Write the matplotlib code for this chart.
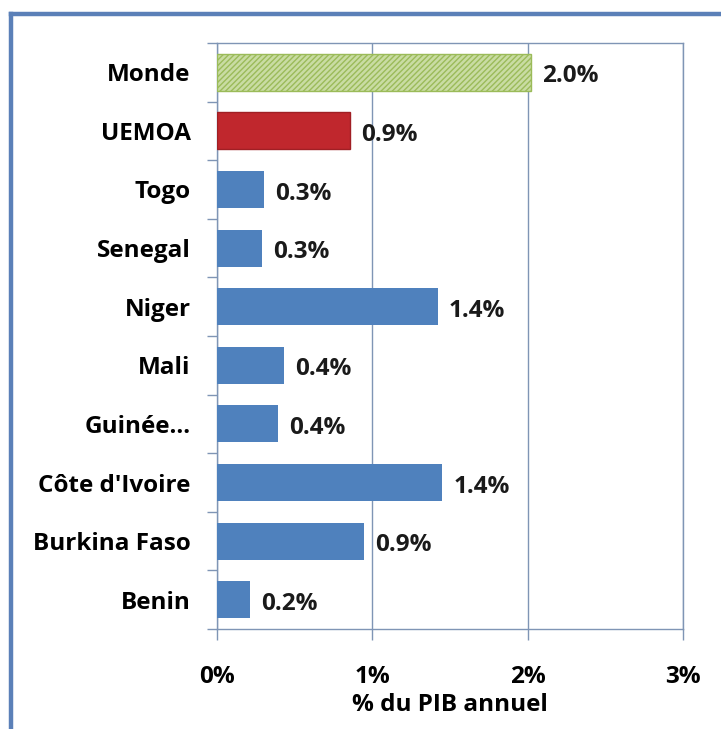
import matplotlib
matplotlib.use("Agg")
import matplotlib.pyplot as plt
from matplotlib.lines import Line2D
from matplotlib.ticker import FixedLocator, PercentFormatter

# data, bottom to top as drawn
countries = ["Benin", "Burkina Faso", "Côte d'Ivoire", "Guinée...", "Mali",
             "Niger", "Senegal", "Togo", "UEMOA", "Monde"]
values = [0.21, 0.945, 1.45, 0.39, 0.43, 1.42, 0.29, 0.30, 0.855, 2.02]
labels = ["0.2%", "0.9%", "1.4%", "0.4%", "0.4%", "1.4%", "0.3%", "0.3%", "0.9%", "2.0%"]

BLUE, RED, GREEN_FILL, GREEN_EDGE = "#4f81bd", "#c0272d", "#c9dca3", "#9bbb59"
GRID = "#7f95b5"
FS = 17.5

plt.rcParams.update({"font.family": ["Open Sans", "DejaVu Sans"], "font.weight": "bold",
                     "hatch.linewidth": 1.0})

fig = plt.figure(figsize=(7.21, 7.29), dpi=100)
ax = fig.add_axes([217 / 721, 1 - 629 / 729, (683 - 217) / 721, (629 - 43) / 729])

ypos = list(range(len(countries)))
bars = ax.barh(ypos, values, height=0.63, color=BLUE, zorder=3)
bars[-2].set_facecolor(RED)
bars[-2].set_edgecolor("#a01f24")
bars[-1].set_facecolor(GREEN_FILL)
bars[-1].set_edgecolor(GREEN_EDGE)
bars[-1].set_hatch("//////")

for b, txt in zip(bars, labels):
    ax.annotate(txt, (b.get_width(), b.get_y() + b.get_height() / 2),
                textcoords="offset points", xytext=(8, -3), va="center",
                fontsize=FS, fontweight="bold", color="#1a1a1a")

ax.set_xlim(0, 3)
ax.set_ylim(-0.5, len(countries) - 0.5)
ax.set_xticks([0, 1, 2, 3])
ax.xaxis.set_major_formatter(PercentFormatter(decimals=0))
ax.set_yticks(ypos)
ax.set_yticklabels(countries)
ax.yaxis.set_minor_locator(FixedLocator([i - 0.5 for i in range(len(countries) + 1)]))
ax.tick_params(axis="y", which="major", length=0, pad=19, labelsize=FS)
ax.tick_params(axis="y", which="minor", length=7, color=GRID, width=1)
ax.tick_params(axis="x", length=8, color=GRID, width=1, pad=18, labelsize=FS)
ax.grid(axis="x", color=GRID, lw=1, zorder=0)
for s in ax.spines.values():
    s.set_color(GRID)
    s.set_linewidth(1)
ax.set_xlabel("% du PIB annuel", fontsize=FS, fontweight="bold", labelpad=3)

# outer frame (left and top edges only visible)
fig.add_artist(Line2D([11 / 721, 11 / 721], [0, 1 - 14 / 729], color="#5b80b8", lw=3.2))
fig.add_artist(Line2D([11 / 721, 1], [1 - 14 / 729, 1 - 14 / 729], color="#5b80b8", lw=3.2))

fig.savefig("out.png", dpi=100)
